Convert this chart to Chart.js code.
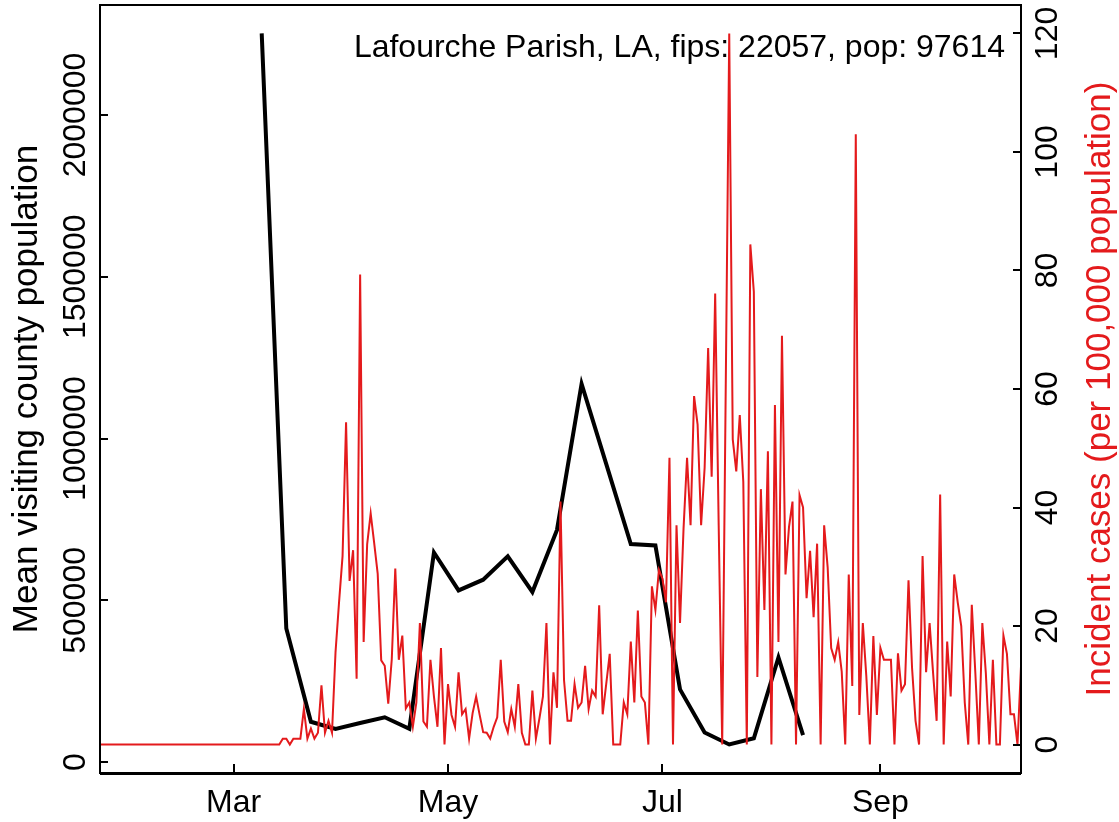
<!DOCTYPE html>
<html>
<head>
<meta charset="utf-8">
<title>Lafourche Parish, LA</title>
<script src="https://cdn.jsdelivr.net/npm/chart.js@4.4.1/dist/chart.umd.min.js"></script>
<style>
  html, body { margin: 0; padding: 0; background: #ffffff; }
  #chart-wrap { width: 1119px; height: 822px; }
</style>
</head>
<body>
<div id="chart-wrap"><canvas id="chart-box" width="1119" height="822"></canvas></div>
<script>
// day numbers count from Jan 22, 2020 (day 1 = Jan 23)
const monthTickDays = [39, 100, 161, 223];
const monthTickLabels = ["Mar", "May", "Jul", "Sep"];
const leftTicks = [0, 500000, 1000000, 1500000, 2000000];
const rightTicks = [0, 20, 40, 60, 80, 100, 120];

// weekly mean visiting county population
const mobilityDays = [47, 54, 61, 68, 75, 82, 89, 96, 103, 110, 117, 124, 131, 138, 145, 152, 159, 166, 173, 180, 187, 194, 201];
const mobilityValues = [2252000, 413000, 125000, 103000, 121000, 139000, 103000, 648000, 531000, 564000, 636000, 526000, 718000, 1169000, 922000, 674000, 670000, 225000, 92000, 55000, 74000, 324000, 84000];

// daily incident cases per 100,000, first value is day 1
const caseFirstDay = 1;
const incidentCases = [
  0, 0, 0, 0, 0, 0, 0, 0, 0, 0,
  0, 0, 0, 0, 0, 0, 0, 0, 0, 0,
  0, 0, 0, 0, 0, 0, 0, 0, 0, 0,
  0, 0, 0, 0, 0, 0, 0, 0, 0, 0,
  0, 0, 0, 0, 0, 0, 0, 0, 0, 0,
  0, 0, 1, 1, 0, 1, 1, 1, 6, 1,
  2.7, 1, 2, 10, 2, 4, 2, 15.6, 24, 31.8,
  54.4, 27.6, 32.8, 11.1, 79.3, 17.3, 33.8, 39, 34, 28.8,
  14.2, 13.3, 6.9, 14.4, 29.7, 14.3, 18.4, 6.1, 7.1, 3,
  7.1, 20.5, 3.9, 3, 14.3, 8.1, 3, 16.3, 0, 10.2,
  5, 3, 12.2, 5.1, 6, 1, 5.3, 8.1, 5, 2.1,
  2, 1, 3, 4.6, 14.3, 3.9, 2.1, 6, 3, 10.2,
  2, 0, 0, 9.1, 1, 4.4, 8.1, 20.5, 0, 12.2,
  6.2, 41, 10.9, 4, 4, 10.2, 6.2, 7.1, 13.3, 6,
  9.1, 8.1, 23.5, 5.1, 10.2, 15.3, 0, 0, 0, 7.1,
  5.1, 17.4, 7.1, 22.6, 8.1, 7.1, 0, 26.7, 22.7, 29.5,
  28, 24, 48.4, 0, 37, 20.5, 36.4, 48.4, 37, 58.8,
  54, 37, 46.7, 66.9, 45.2, 76.1, 37, 0, 60, 120,
  51.5, 46.1, 55.6, 44.3, 0, 84.4, 76.4, 11.4, 43.1, 22.7,
  49.5, 0, 57.3, 17.3, 69, 28.7, 36.7, 41, 0, 42.1,
  40, 24.7, 32.7, 21.5, 33.9, 0, 37, 29.9, 16.3, 14.3,
  17.3, 12.3, 0, 28.7, 9.9, 103, 5, 20.5, 11.5, 0,
  18.3, 5, 16.3, 14.3, 14.3, 14.3, 0, 15.4, 9.1, 10.2,
  27.7, 13, 4, 0, 31.8, 12.2, 20.5, 12, 4, 42.2,
  0, 17.4, 8.1, 28.7, 24, 20, 7.1, 0, 23.6, 12.2,
  0, 20.5, 12, 0, 14.3, 0, 0, 18.4, 15.3, 5.1,
  5.1, 0, 13.2
];

const titleText = "Lafourche Parish, LA, fips: 22057, pop: 97614";
const leftTitle = "Mean visiting county population";
const rightTitle = "Incident cases (per 100,000 population)";

const RED = "#e41a1c";
const FONT = '32px "Liberation Sans", Arial, sans-serif';
const LAB_FONT = '35px "Liberation Sans", Arial, sans-serif';

var casePoints = incidentCases.map(function (v, i) {
  return { x: caseFirstDay + i, y: v };
});
var mobilityPoints = mobilityDays.map(function (d, i) {
  return { x: d, y: mobilityValues[i] };
});

function vText(ctx, txt, x, y) {
  // text reading bottom to top
  ctx.save();
  ctx.translate(x, y);
  ctx.rotate(-Math.PI / 2);
  ctx.fillText(txt, 0, 0);
  ctx.restore();
}

const framePlugin = {
  id: "frame",
  afterDraw: function (chart) {
    var ctx = chart.ctx;
    var a = chart.chartArea;
    var x = chart.scales.x, yL = chart.scales.yL, yR = chart.scales.yR;
    ctx.save();
    ctx.strokeStyle = "#000";
    ctx.lineWidth = 2;
    ctx.strokeRect(a.left, a.top, a.right - a.left, a.bottom - a.top);
    // x axis line sits on the box, looks heavier
    ctx.lineWidth = 3;
    ctx.beginPath();
    ctx.moveTo(a.left, a.bottom + 0.5);
    ctx.lineTo(a.right, a.bottom + 0.5);
    ctx.stroke();
    ctx.lineWidth = 2;

    // inward tick marks
    ctx.beginPath();
    monthTickDays.forEach(function (d) {
      var px = Math.round(x.getPixelForValue(d));
      ctx.moveTo(px, a.bottom);
      ctx.lineTo(px, a.bottom - 9);
    });
    leftTicks.forEach(function (v) {
      var py = Math.round(yL.getPixelForValue(v));
      ctx.moveTo(a.left, py);
      ctx.lineTo(a.left + 8, py);
    });
    rightTicks.forEach(function (v) {
      var py = Math.round(yR.getPixelForValue(v));
      ctx.moveTo(a.right, py);
      ctx.lineTo(a.right - 8, py);
    });
    ctx.stroke();

    ctx.font = FONT;
    ctx.fillStyle = "#000";
    ctx.textBaseline = "alphabetic";
    ctx.textAlign = "center";
    monthTickLabels.forEach(function (lab, i) {
      ctx.fillText(lab, x.getPixelForValue(monthTickDays[i]), 812);
    });
    leftTicks.forEach(function (v) {
      vText(ctx, String(v), 85, yL.getPixelForValue(v));
    });
    rightTicks.forEach(function (v) {
      vText(ctx, String(v), 1057, yR.getPixelForValue(v));
    });
    ctx.textAlign = "right";
    ctx.fillText(titleText, 1005, 57);

    ctx.font = LAB_FONT;
    ctx.textAlign = "center";
    vText(ctx, leftTitle, 37, (a.top + a.bottom) / 2);
    ctx.fillStyle = RED;
    vText(ctx, rightTitle, 1110, (a.top + a.bottom) / 2);
    ctx.restore();
  }
};

var ctx = document.getElementById("chart-box").getContext("2d");
var chart = new Chart(ctx, {
  type: "line",
  data: {
    datasets: [
      {
        label: "Incident cases",
        data: casePoints,
        yAxisID: "yR",
        borderColor: RED,
        borderWidth: 2,
        pointRadius: 0,
        tension: 0,
        fill: false
      },
      {
        label: "Mean visiting county population",
        data: mobilityPoints,
        yAxisID: "yL",
        borderColor: "#000000",
        borderWidth: 4,
        pointRadius: 0,
        tension: 0,
        fill: false
      }
    ]
  },
  options: {
    responsive: false,
    animation: false,
    devicePixelRatio: 1,
    layout: { padding: { top: 5, left: 0, right: 0, bottom: 0 } },
    plugins: {
      legend: { display: false },
      tooltip: { enabled: false },
      title: { display: false }
    },
    scales: {
      x: {
        type: "linear",
        min: 1,
        max: 263,
        grid: { display: false, drawTicks: false },
        border: { display: false },
        ticks: { display: false },
        afterFit: function (s) { s.height = 49; }
      },
      yL: {
        type: "linear",
        position: "left",
        min: -33300,
        max: 2339900,
        grid: { display: false, drawTicks: false },
        border: { display: false },
        ticks: { display: false },
        afterFit: function (s) { s.width = 100; }
      },
      yR: {
        type: "linear",
        position: "right",
        min: -4.8,
        max: 124.8,
        grid: { display: false, drawTicks: false },
        border: { display: false },
        ticks: { display: false },
        afterFit: function (s) { s.width = 98; }
      }
    }
  },
  plugins: [framePlugin]
});
</script>
</body>
</html>
